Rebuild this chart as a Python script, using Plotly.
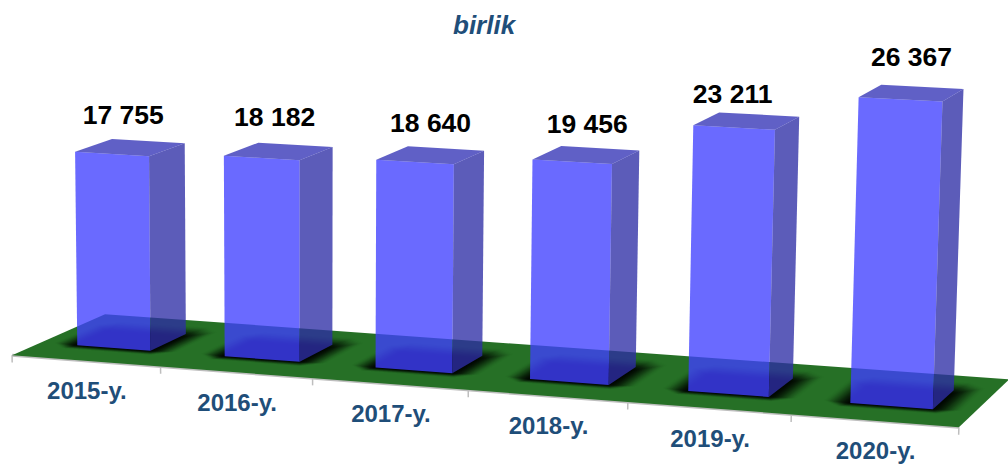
import numpy as np
import plotly.graph_objects as go

YEARS = ["2015-y.", "2016-y.", "2017-y.", "2018-y.", "2019-y.", "2020-y."]
VALUES = [17755, 18182, 18640, 19456, 23211, 26367]
LABELS = ["17 755", "18 182", "18 640", "19 456", "23 211", "26 367"]

# Camera calibration for the oblique view: world (category, depth, value) -> pixel
CALIBRATION = [
    ((0, 0, 0), (12, 355)), ((6, 0, 0), (960, 427)),
    ((6, 1, 0), (1008, 380)), ((0, 1, 0), (105, 314)),
    ((0.25, 0.3, 17755), (74, 153)), ((0.75, 0.3, 17755), (150, 157)),
    ((5.25, 0.3, 26367), (857, 98)), ((5.75, 0.3, 26367), (941, 102)),
    ((5.75, 0.7, 26367), (966, 89)), ((0.75, 0.7, 17755), (185, 142)),
    ((3.25, 0.3, 19456), (533, 159)), ((4.75, 0.3, 23211), (775, 128)),
]
LABEL_NUDGE = [(-7, -30), (-4, -32), (0, -30), (1, -29), (-14, -25), (0, -34)]
FRONT = "rgba(64,64,255,0.78)"
SIDE = "rgba(46,46,165,0.78)"
TOP = "rgba(51,51,182,0.78)"
FLOOR = "rgb(38,112,38)"
EDGE = "rgb(190,190,190)"
NAVY = "#1f4e79"
FONT = "Liberation Sans"


def solve_camera(pairs):
    rows, rhs = [], []
    for (x, y, z), (u, v) in pairs:
        z = z / 1000
        rows.append([x, y, z, 1, 0, 0, 0, 0, -u * x, -u * y, -u * z])
        rows.append([0, 0, 0, 0, x, y, z, 1, -v * x, -v * y, -v * z])
        rhs += [u, v]
    p = np.linalg.lstsq(np.array(rows, float), np.array(rhs, float), rcond=None)[0]
    return np.append(p, 1).reshape(3, 4)


CAM = solve_camera(CALIBRATION)


def project(x, y, z):
    u, v, w = CAM @ np.array([x, y, z / 1000, 1.0])
    return u / w, v / w


def poly(points):
    pix = [project(*p) for p in points]
    pix.append(pix[0])
    return [p[0] for p in pix], [p[1] for p in pix]


def fill(fig, xs, ys, color):
    fig.add_trace(go.Scatter(x=xs, y=ys, mode="lines", fill="toself", fillcolor=color,
                             line=dict(width=0), hoverinfo="skip", showlegend=False))


def rect(x0, x1, y0, y1, z=0):
    return [(x0, y0, z), (x1, y0, z), (x1, y1, z), (x0, y1, z)]


def chamfer(x0, x1, y0, y1, cx, cy):
    return [(x0 + cx, y0, 0), (x1 - cx, y0, 0), (x1, y0 + cy, 0), (x1, y1 - cy, 0),
            (x1 - cx, y1, 0), (x0 + cx, y1, 0), (x0, y1 - cy, 0), (x0, y0 + cy, 0)]


def line(fig, a, b, width=2):
    pa, pb = project(*a), project(*b)
    fig.add_trace(go.Scatter(x=[pa[0], pb[0]], y=[pa[1], pb[1]], mode="lines",
                             line=dict(color=EDGE, width=width), hoverinfo="skip", showlegend=False))


fig = go.Figure()
n = len(YEARS)

# floor with its axis edge and ticks
line(fig, (0, 0, 0), (6, 0, 0), 3)
for i in range(n + 1):
    line(fig, (i, 0, 0), (i, 0, -650), 1.5)
fill(fig, *poly(rect(0, n, 0, 1)), FLOOR)

# soft contact shadows: nested outlines whose accumulated darkness ramps smoothly
LAYERS = 18
previous = 0.0
for layer in range(LAYERS):
    t = (layer + 1) / LAYERS
    target = 0.92 * (t * t * (3 - 2 * t))
    alpha = 1 - (1 - target) / (1 - previous)
    previous = target
    grow = 1 - layer / (LAYERS - 1)
    gx, gy = 0.17 * grow, 0.085 * grow
    xs, ys = [], []
    for i in range(n):
        px, py = poly(chamfer(i + 0.25 - gx, i + 0.75 + gx, 0.3 - gy, 0.62 + 0.26 * grow,
                              0.12 * grow, 0.10 * grow))
        xs += px + [None]
        ys += py + [None]
    fill(fig, xs, ys, f"rgba(0,0,0,{alpha:.4f})")

# bars
for i, v in enumerate(VALUES):
    x0, x1, y0, y1 = i + 0.25, i + 0.75, 0.3, 0.7
    fill(fig, *poly([(x0, y0, 0), (x1, y0, 0), (x1, y0, v), (x0, y0, v)]), FRONT)
    fill(fig, *poly([(x1, y0, 0), (x1, y1, 0), (x1, y1, v), (x1, y0, v)]), SIDE)
    fill(fig, *poly(rect(x0, x1, y0, y1, v)), TOP)

# value labels
tops = [project(i + 0.5, 0.5, v) for i, v in enumerate(VALUES)]
fig.add_trace(go.Scatter(
    x=[t[0] + d[0] for t, d in zip(tops, LABEL_NUDGE)],
    y=[t[1] + d[1] for t, d in zip(tops, LABEL_NUDGE)],
    mode="text", text=LABELS, textposition="middle center",
    textfont=dict(family=FONT, size=26.5, color="black", weight="bold"),
    hoverinfo="skip", showlegend=False))

# category labels
feet = [project(i + 0.5, 0, 0) for i in range(n)]
fig.add_trace(go.Scatter(
    x=[f[0] + 1 for f in feet], y=[f[1] + 32.5 for f in feet],
    mode="text", text=YEARS, textposition="middle center",
    textfont=dict(family=FONT, size=24, color=NAVY, weight="bold"),
    hoverinfo="skip", showlegend=False))

hidden = dict(visible=False, showgrid=False, zeroline=False, fixedrange=True)
fig.update_layout(
    width=1008, height=464, margin=dict(l=0, r=0, t=0, b=0),
    paper_bgcolor="white", plot_bgcolor="white", showlegend=False,
    xaxis=dict(range=[0, 1008], **hidden),
    yaxis=dict(range=[464, 0], **hidden),
    annotations=[dict(text="<b><i>birlik</i></b>", x=485, y=25, xref="x", yref="y", showarrow=False,
                      font=dict(family=FONT, size=26, color=NAVY))],
)
fig.write_html("out.html", config={"displayModeBar": False},
               post_script="document.body.style.margin='0';document.body.style.overflow='hidden';")
